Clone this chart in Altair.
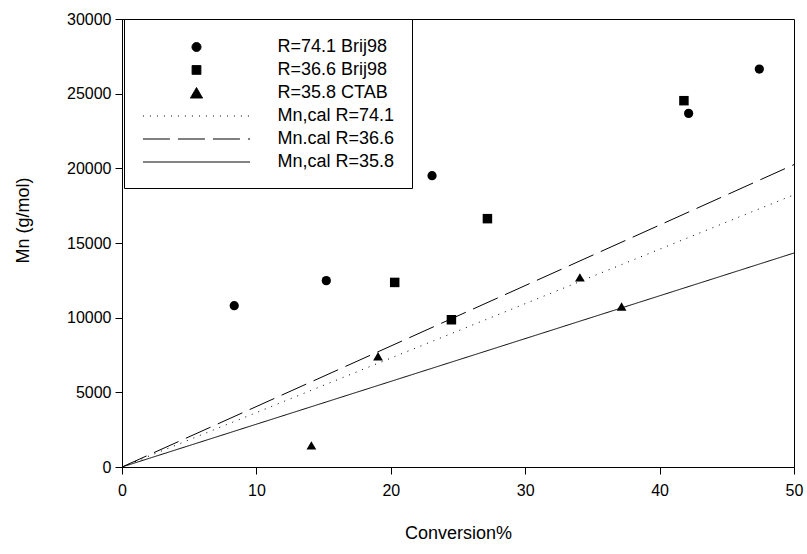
import altair as alt
import pandas as pd

# ---- data ----
series_names = ["R=74.1 Brij98", "R=36.6 Brij98", "R=35.8 CTAB",
                "Mn,cal R=74.1", "Mn.cal R=36.6", "Mn,cal R=35.8"]

brij74_x = [8.35, 15.2, 23.07, 42.16, 47.42]
brij74_y = [10800, 12480, 19510, 23680, 26650]
brij36_x = [20.29, 24.51, 27.19, 41.81]
brij36_y = [12360, 9860, 16630, 24530]
ctab_x = [14.09, 19.05, 34.07, 37.17]
ctab_y = [1450, 7410, 12700, 10750]

line_x = [0, 50]
cal74_y = [0, 18230]
cal366_y = [0, 20250]
cal358_y = [0, 14330]

x_ticks = [0, 10, 20, 30, 40, 50]
y_ticks = [0, 5000, 10000, 15000, 20000, 25000, 30000]

# ---- tables ----
pts_rows = []
for name, xs, ys in [(series_names[0], brij74_x, brij74_y),
                     (series_names[1], brij36_x, brij36_y),
                     (series_names[2], ctab_x, ctab_y)]:
    for a, b in zip(xs, ys):
        pts_rows.append({"series": name, "x": a, "y": b})
pts = pd.DataFrame(pts_rows)

line_rows = []
for name, ys in [(series_names[3], cal74_y), (series_names[4], cal366_y), (series_names[5], cal358_y)]:
    for a, b in zip(line_x, ys):
        line_rows.append({"series": name, "x": a, "y": b})
lns = pd.DataFrame(line_rows)

FONT = "Liberation Sans"

names_js = "[" + ",".join("'" + n + "'" for n in series_names) + "]"
idx = "indexof(" + names_js + ", datum.value)"
circle_p = "M-0.43,0A0.43,0.43,0,1,0,0.43,0A0.43,0.43,0,1,0,-0.43,0Z"
square_p = "M-0.42,-0.42H0.42V0.42H-0.42Z"
tri_p = "M0,-0.52L0.58,0.48L-0.58,0.48Z"
line_p = "M-5.1,0H5.1"
shape_expr = "[" + ",".join("'" + p + "'" for p in [circle_p, square_p, tri_p, line_p, line_p, line_p]) + "][" + idx + "]"
dash_expr = "[[1,0],[1,0],[1,0],[1,6],[27,8],[1,0]][" + idx + "]"

legend = alt.Legend(
    orient="none", legendX=2, legendY=0, title=None,
    padding=17, strokeColor="black", fillColor="white",
    symbolSize=441, symbolOffset=44.5, labelOffset=70, rowPadding=3,
    labelFontSize=18, labelFont=FONT, labelColor="black",
    symbolStrokeWidth=1,
    symbolType=alt.ExprRef(expr=shape_expr),
    symbolDash=alt.ExprRef(expr=dash_expr),
)

color_scale = alt.Scale(domain=series_names, range=["black"] * 6)

xscale = alt.Scale(domain=[0, 50], nice=False)
yscale = alt.Scale(domain=[0, 30000], nice=False)

xaxis = alt.Axis(values=x_ticks, format="d", title="Conversion%", grid=False,
                 tickSize=7, labelPadding=8, labelFontSize=16, labelFont=FONT,
                 titleFont=FONT, titleFontSize=18, titleFontWeight="normal",
                 domainColor="black", tickColor="black", labelColor="black",
                 titleColor="black", titleY=66, titleBaseline="middle",
                 labelFlush=False, labelOverlap=False)
yaxis = alt.Axis(values=y_ticks, format="d", title="Mn (g/mol)", grid=False,
                 tickSize=7, labelPadding=4, labelFontSize=16, labelFont=FONT,
                 titleFont=FONT, titleFontSize=18, titleFontWeight="normal",
                 domainColor="black", tickColor="black", labelColor="black",
                 titleColor="black", titleX=-90, titleY=201, titleBaseline="bottom",
                 labelOverlap=False)

lines = alt.Chart(lns).mark_line(strokeWidth=1).encode(
    x=alt.X("x:Q", scale=xscale, axis=xaxis),
    y=alt.Y("y:Q", scale=yscale, axis=yaxis),
    color=alt.Color("series:N", scale=color_scale, legend=legend),
    strokeDash=alt.StrokeDash("series:N",
                              scale=alt.Scale(domain=series_names[3:], range=[[1, 6], [27, 8], [1, 0]]),
                              legend=None),
)

points = alt.Chart(pts).mark_point(filled=True, opacity=1).encode(
    x=alt.X("x:Q", scale=xscale, axis=xaxis),
    y=alt.Y("y:Q", scale=yscale, axis=yaxis),
    color=alt.Color("series:N", scale=color_scale, legend=legend),
    shape=alt.Shape("series:N",
                    scale=alt.Scale(domain=series_names[:3], range=["circle", "square", "triangle-up"]),
                    legend=None),
    size=alt.Size("series:N",
                  scale=alt.Scale(domain=series_names[:3], range=[85, 95, 170]),
                  legend=None),
)

chart = alt.layer(lines, points).properties(
    width=672, height=448,
    padding={"left": 122, "top": 19, "right": 13, "bottom": 87},
    autosize=alt.AutoSizeParams(type="none"),
    background="white",
).configure_view(stroke="black", strokeWidth=1)

chart.save("out.html", embed_options={"renderer": "svg", "actions": False})
